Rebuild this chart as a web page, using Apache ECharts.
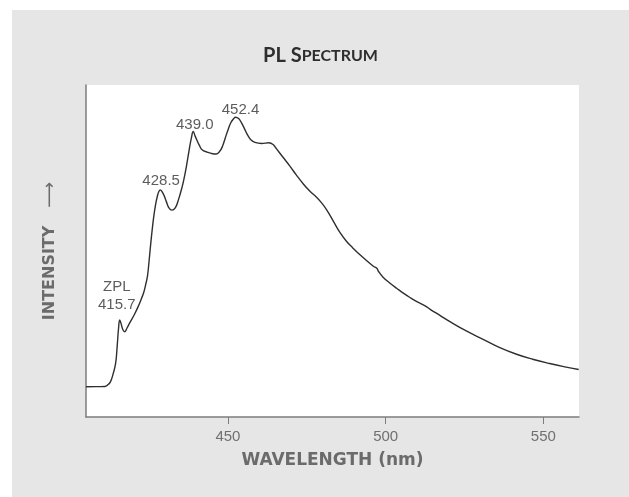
<!DOCTYPE html>
<html>
<head>
<meta charset="utf-8">
<script src="https://cdn.jsdelivr.net/npm/echarts@6/dist/echarts.min.js"></script>
<style>
  html, body { margin: 0; padding: 0; background: #ffffff; }
  #panel { position: absolute; left: 12px; top: 10px; width: 617px; height: 487px; }
</style>
</head>
<body>
<div id="panel"></div>
<script>
// Photoluminescence spectrum: wavelength (nm) vs. relative intensity
const wavelength = [
  405.0, 409.0, 411.0, 411.8, 412.7, 413.6, 414.4, 414.9, 415.3, 415.7,
  416.1, 416.7, 417.3, 418.0, 419.0, 420.3, 421.6, 422.5, 423.3, 423.9,
  424.5, 425.0, 425.5, 426.0, 426.5, 427.1, 427.7, 428.1, 428.5, 429.5,
  430.5, 431.3, 432.2, 433.3, 434.3, 435.5, 436.0, 436.85, 437.7, 438.4,
  439.0, 439.6, 440.3, 440.9, 441.9, 443.4, 444.7, 446.2, 447.45, 448.3,
  449.1, 450.1, 450.95, 451.85, 452.4, 453.4, 454.3, 455.3, 456.25, 457.35,
  458.55, 460.7, 463.0, 464.3, 465.3, 467.4, 469.7, 471.6, 473.9, 476.0,
  478.1, 479.7, 481.3, 483.4, 485.5, 487.5, 489.5, 492.4, 496.1, 497.2,
  497.7, 499.1, 501.4, 503.6, 505.6, 507.7, 510.2, 512.5, 514.0, 517.2,
  520.4, 525.4, 530.9, 536.2, 541.5, 546.6, 552.0, 556.8, 561.2
];
const intensity = [
  9.1, 9.15, 9.2, 9.6, 10.5, 13.0, 16.2, 21.5, 26.5, 29.2,
  28.2, 26.3, 25.7, 26.8, 28.6, 30.8, 33.4, 35.5, 37.5, 39.8,
  42.5, 47.0, 52.0, 56.5, 60.5, 64.2, 66.8, 67.9, 68.4, 67.2,
  64.8, 63.0, 62.3, 63.0, 65.4, 69.4, 71.4, 75.6, 80.4, 84.0,
  86.0, 84.6, 83.1, 81.9, 80.4, 79.8, 79.4, 79.2, 80.1, 81.6,
  83.9, 86.7, 88.7, 89.9, 90.3, 89.9, 88.6, 86.7, 84.9, 83.4,
  82.7, 82.4, 82.6, 82.1, 80.9, 78.3, 75.5, 73.0, 70.2, 68.0,
  66.2, 64.5, 62.4, 59.0, 55.6, 53.0, 51.0, 48.4, 45.4, 44.8,
  43.9, 42.2, 40.3, 38.7, 37.3, 36.0, 34.6, 33.5, 32.5, 30.6,
  28.7, 26.0, 23.4, 20.9, 18.9, 17.4, 16.1, 15.1, 14.3
];

// Labelled emission peaks
const peakWavelength = [415.7, 428.5, 439.0, 452.4];
const peakIntensity = [29.2, 68.4, 86.0, 90.3];
const peakTag = ['ZPL', '', '', ''];
const peakLabelShift = [[-3, -5], [1, 1], [1.5, 3], [5, 3]];

const tickValues = [450, 500, 550];

const spectrum = wavelength.map((w, i) => [w, intensity[i]]);
const peaks = peakWavelength.map((w, i) => ({
  value: [w, peakIntensity[i]],
  tag: peakTag[i],
  label: { offset: peakLabelShift[i] }
}));

const chart = echarts.init(document.getElementById('panel'), null, { renderer: 'canvas' });

chart.setOption({
  backgroundColor: '#e6e6e6',
  animation: false,
  title: {
    left: 'center',
    top: 31,
    text: '{big|PL S}{small|PECTRUM}',
    textStyle: {
      rich: {
        big: { fontFamily: 'Lato', fontWeight: 'bold', fontSize: 20, color: '#2e2e2e' },
        small: { fontFamily: 'Lato', fontWeight: 'bold', fontSize: 16, color: '#2e2e2e' }
      }
    }
  },
  grid: {
    left: 74, right: 50, top: 75, bottom: 80,
    show: true, backgroundColor: '#ffffff', borderWidth: 0
  },
  xAxis: {
    type: 'value',
    min: 405,
    max: 561.3,
    name: 'WAVELENGTH (nm)',
    nameLocation: 'middle',
    nameGap: 35,
    nameTextStyle: {
      fontFamily: 'DejaVu Sans', fontWeight: 'bold', fontSize: 17, color: '#6b6b6b'
    },
    axisLine: { show: true, onZero: false, lineStyle: { color: '#7d7d7d', width: 1.5 } },
    axisTick: {
      show: true, inside: false, length: 7,
      customValues: tickValues,
      lineStyle: { color: '#7d7d7d', width: 1 }
    },
    axisLabel: {
      customValues: tickValues,
      margin: 12,
      fontFamily: 'Liberation Sans', fontSize: 15, color: '#707070'
    },
    splitLine: { show: false }
  },
  yAxis: {
    type: 'value',
    min: 0,
    max: 100,
    name: '{t|INTENSITY}{g|}{a|⟶}',
    nameLocation: 'middle',
    nameRotate: 90,
    nameGap: 27,
    nameTextStyle: {
      rich: {
        t: { fontFamily: 'DejaVu Sans', fontWeight: 'bold', fontSize: 16, color: '#6b6b6b' },
        g: { width: 18 },
        a: { fontFamily: 'DejaVu Sans', fontSize: 18, color: '#6b6b6b' }
      }
    },
    axisLine: { show: true, onZero: false, lineStyle: { color: '#7d7d7d', width: 1.5 } },
    axisTick: { show: false },
    axisLabel: { show: false },
    splitLine: { show: false }
  },
  series: [
    {
      type: 'line',
      data: spectrum,
      showSymbol: false,
      smooth: 0.45,
      lineStyle: { color: '#2f2f2f', width: 1.4 },
      z: 3
    },
    {
      type: 'scatter',
      data: peaks,
      symbolSize: 0,
      silent: true,
      label: {
        show: true,
        position: 'top',
        distance: 1,
        align: 'center',
        fontFamily: 'Liberation Sans',
        fontSize: 15,
        lineHeight: 18,
        color: '#333333',
        formatter: p => (p.data.tag ? p.data.tag + '\n' : '') + p.value[0].toFixed(1)
      },
      z: 4
    }
  ]
});
</script>
</body>
</html>
